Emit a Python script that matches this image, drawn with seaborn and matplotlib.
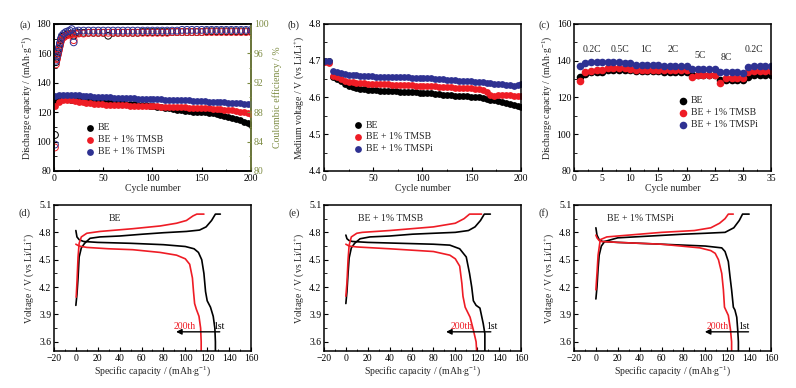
import numpy as np
import pandas as pd
import seaborn as sns
import matplotlib.pyplot as plt
from matplotlib.ticker import MultipleLocator, AutoMinorLocator

# ---- (a) cycling capacity / coulombic efficiency ----
cycles = np.r_[np.arange(1, 200, 4), 200]
cap_be = [127.5, 128.5, 129, 129, 128.5, 128.5, 128, 128, 127.8, 127.6, 127.4, 127.2, 127, 126.8,
          126.6, 126.4, 126.2, 126, 125.8, 125.6, 125.4, 125.2, 125, 124.8, 124.5, 124.2, 123.8,
          123.4, 123, 122.6, 122.2, 121.8, 121.4, 121, 120.7, 120.4, 120.2, 120, 119.8, 119.6,
          119.3, 118.8, 118.2, 117.5, 116.8, 116, 115.2, 114.4, 113.5, 112.5, 111.5]
cap_tmsb = [124.5, 127, 128.2, 128.3, 128, 127.5, 127, 126.6, 126.3, 126, 125.8, 125.6, 125.4,
            125.2, 125, 124.9, 124.8, 124.7, 124.6, 124.5, 124.4, 124.3, 124.2, 124.1, 124, 124,
            123.9, 123.8, 123.7, 123.6, 123.5, 123.4, 123.3, 123.2, 123.1, 123, 122.9, 122.8,
            122.7, 122.6, 122.4, 122.2, 122, 121.8, 121.5, 121.2, 120.8, 120.4, 120, 119.5, 119]
cap_tmspi = [131, 131.8, 132, 132, 131.8, 131.6, 131.4, 131.2, 131, 130.8, 130.6, 130.5, 130.4,
             130.2, 130, 129.9, 129.8, 129.7, 129.6, 129.5, 129.4, 129.3, 129.2, 129.1, 129, 128.9,
             128.8, 128.7, 128.6, 128.5, 128.4, 128.3, 128.2, 128.1, 128, 127.9, 127.8, 127.6,
             127.4, 127.2, 127, 126.9, 126.8, 126.6, 126.5, 126.4, 126.2, 126, 125.8, 125.6, 125.5]

ce_cycles = np.r_[[1, 2, 3, 4, 5, 6, 7, 8, 10, 12, 14, 16, 18, 20, 22], np.arange(25, 201, 5)]
ce_be = [84.9, 94.8, 95.4, 96.0, 96.6, 97.2, 97.8, 98.2, 98.4, 98.5, 98.6, 98.6, 98.7, 98.4, 98.7,
         98.8, 98.8, 98.8, 98.8, 98.8, 98.8, 98.4, 98.8, 98.8, 98.8, 98.8, 98.8, 98.8, 98.9, 98.9,
         98.9, 98.9, 98.9, 98.9, 98.9, 98.9, 98.9, 98.9, 98.9, 98.9, 98.9, 99.0, 99.0, 99.0, 99.0,
         99.0, 99.0, 99.0, 99.0, 99.0, 99.0]
ce_tmsb = [83.2, 94.5, 95.2, 95.8, 96.4, 97.0, 97.6, 98.0, 98.2, 98.4, 98.5, 98.6, 98.6, 97.8, 98.7,
           98.7, 98.7, 98.8, 98.8, 98.8, 98.8, 98.8, 98.8, 98.8, 98.8, 98.8, 98.8, 98.8, 98.8, 98.8,
           98.8, 98.8, 98.8, 98.8, 98.9, 98.9, 98.9, 98.9, 98.9, 98.9, 98.9, 98.9, 98.9, 98.9, 98.9,
           98.9, 98.9, 98.9, 98.9, 98.9, 98.9]
ce_tmspi = [83.6, 95.0, 95.6, 96.2, 96.8, 97.4, 98.0, 98.4, 98.7, 98.9, 99.0, 99.1, 99.3, 97.5, 99.0,
            99.1, 99.1, 99.1, 99.1, 99.1, 99.1, 99.1, 99.1, 99.1, 99.1, 99.1, 99.1, 99.1, 99.1, 99.1,
            99.1, 99.1, 99.1, 99.1, 99.1, 99.1, 99.2, 99.2, 99.2, 99.2, 99.2, 99.2, 99.2, 99.2, 99.2,
            99.2, 99.2, 99.2, 99.2, 99.2, 99.2]

# ---- (b) medium voltage ----
mv_be = [4.700, 4.698, 4.655, 4.650, 4.645, 4.637, 4.631, 4.628, 4.626, 4.624, 4.622, 4.621, 4.620,
         4.620, 4.619, 4.619, 4.618, 4.618, 4.617, 4.616, 4.615, 4.615, 4.614, 4.614, 4.613, 4.613,
         4.612, 4.611, 4.610, 4.609, 4.608, 4.607, 4.606, 4.605, 4.604, 4.603, 4.603, 4.602, 4.601,
         4.600, 4.598, 4.596, 4.594, 4.592, 4.590, 4.588, 4.585, 4.582, 4.579, 4.576, 4.575]
mv_tmsb = [4.697, 4.695, 4.659, 4.655, 4.650, 4.646, 4.643, 4.641, 4.640, 4.639, 4.639, 4.638, 4.638,
           4.637, 4.637, 4.636, 4.636, 4.635, 4.635, 4.634, 4.634, 4.633, 4.633, 4.632, 4.632, 4.631,
           4.631, 4.630, 4.630, 4.629, 4.629, 4.628, 4.628, 4.627, 4.627, 4.626, 4.625, 4.625, 4.624,
           4.622, 4.620, 4.615, 4.608, 4.603, 4.606, 4.608, 4.607, 4.606, 4.605, 4.604, 4.605]
mv_tmspi = [4.700, 4.700, 4.672, 4.669, 4.666, 4.663, 4.661, 4.660, 4.660, 4.659, 4.659, 4.658, 4.658,
            4.657, 4.657, 4.657, 4.656, 4.656, 4.656, 4.655, 4.655, 4.655, 4.654, 4.654, 4.654, 4.653,
            4.653, 4.652, 4.651, 4.650, 4.649, 4.648, 4.648, 4.647, 4.646, 4.645, 4.645, 4.644, 4.643,
            4.642, 4.641, 4.640, 4.639, 4.638, 4.637, 4.636, 4.635, 4.634, 4.632, 4.635, 4.637]

# ---- (c) rate capability ----
rate_cycles = np.arange(1, 36)
rate_be = [131.0, 132.9, 134.1, 134.1, 134.1, 135.2, 135.2, 135.2, 135.2, 135.2, 134.6, 134.6, 134.6,
           134.6, 134.6, 134.0, 134.0, 134.0, 134.0, 134.0, 132.5, 132.3, 132.3, 132.3, 132.3, 129.6,
           129.6, 129.6, 129.6, 129.6, 131.4, 132.1, 132.1, 132.1, 132.1]
rate_tmsb = [128.7, 133.6, 134.5, 135.0, 135.0, 136.0, 136.0, 136.0, 136.0, 135.6, 135.0, 135.0, 135.0,
             135.0, 135.0, 134.7, 134.7, 134.7, 134.7, 134.7, 131.0, 132.3, 132.3, 132.3, 132.3,
             128.1, 130.5, 130.5, 130.5, 130.5, 133.6, 134.3, 134.3, 134.3, 134.3]
rate_tmspi = [137.2, 138.7, 139.2, 139.2, 139.2, 139.2, 139.2, 139.2, 138.7, 138.7, 137.8, 137.8, 137.8,
              137.8, 137.8, 136.9, 136.9, 136.9, 136.9, 136.9, 135.6, 135.6, 135.6, 135.6, 135.6,
              134.1, 134.1, 134.1, 134.1, 133.2, 136.5, 137.0, 137.0, 137.0, 137.0]
rate_labels = ["0.2C", "0.5C", "1C", "2C", "5C", "8C", "0.2C"]
rate_label_x = [3.1, 8.1, 12.8, 17.6, 22.4, 27.1, 32.0]
rate_label_y = [146, 146, 146, 146, 143, 142, 146]

# ---- (d)-(f) charge / discharge profiles: (1st charge, 1st discharge, 200th charge, 200th discharge) ----
d_c1_x = [0, 1, 2, 3, 5, 8, 13, 22, 40, 61, 80, 101, 113, 119, 124, 127.5, 132]
d_c1_y = [4.0, 4.12, 4.3, 4.53, 4.63, 4.68, 4.735, 4.75, 4.76, 4.78, 4.796, 4.81, 4.825, 4.86, 4.93, 5.0, 5.0]
d_d1_x = [0, 1, 3, 7, 20, 50, 80, 100, 108, 112, 115, 117, 118.5, 120, 123, 125.5, 127, 127.5, 127.5]
d_d1_y = [4.82, 4.75, 4.72, 4.70, 4.69, 4.68, 4.665, 4.645, 4.62, 4.58, 4.50, 4.35, 4.15, 4.05, 3.98, 3.88, 3.75, 3.60, 3.50]
d_c200_x = [0.3, 1, 2, 3, 5, 10, 22, 52, 77, 92, 101, 107, 110.5, 117]
d_c200_y = [4.09, 4.25, 4.53, 4.68, 4.75, 4.79, 4.81, 4.84, 4.87, 4.90, 4.93, 4.98, 5.0, 5.0]
d_d200_x = [0, 3, 10, 30, 52, 77, 92, 100, 104, 106.5, 107.5, 108.5, 110, 112.5, 114, 114.5, 114.5]
d_d200_y = [4.67, 4.65, 4.635, 4.62, 4.61, 4.58, 4.55, 4.51, 4.45, 4.30, 4.15, 4.02, 3.96, 3.88, 3.75, 3.60, 3.50]

e_c1_x = [0, 1, 2, 3, 5, 8, 13, 22, 40, 61, 80, 100, 112, 118, 123, 126.5, 132]
e_c1_y = [4.02, 4.15, 4.35, 4.52, 4.63, 4.68, 4.73, 4.75, 4.76, 4.78, 4.79, 4.80, 4.82, 4.86, 4.93, 5.0, 5.0]
e_d1_x = [0, 1, 3, 6, 20, 50, 80, 95, 104, 110, 113, 115, 116.5, 119, 122.5, 125.5, 127, 127, 127]
e_d1_y = [4.77, 4.73, 4.71, 4.70, 4.69, 4.68, 4.67, 4.66, 4.62, 4.53, 4.35, 4.20, 4.05, 4.0, 3.97, 3.80, 3.69, 3.60, 3.50]
e_c200_x = [0, 1, 2, 3, 5, 10, 15, 40, 80, 100, 108, 113, 124]
e_c200_y = [4.10, 4.25, 4.50, 4.66, 4.75, 4.79, 4.80, 4.82, 4.86, 4.90, 4.95, 5.0, 5.0]
e_d200_x = [0, 3, 10, 40, 80, 95, 100, 104, 106, 107, 109, 113.5, 116.5, 119, 119.5]
e_d200_y = [4.67, 4.65, 4.64, 4.62, 4.59, 4.55, 4.51, 4.43, 4.24, 4.10, 3.98, 3.87, 3.73, 3.60, 3.50]

f_c1_x = [0, 1, 2, 3, 5, 8, 20, 50, 80, 100, 118, 126, 131, 134, 140]
f_c1_y = [4.07, 4.2, 4.4, 4.55, 4.65, 4.70, 4.74, 4.76, 4.78, 4.79, 4.80, 4.85, 4.93, 5.0, 5.0]
f_d1_x = [0, 1, 3, 6, 20, 60, 100, 115, 118, 121, 122.6, 124, 125.6, 127, 128.7, 129.6, 130.2, 130.2]
f_d1_y = [4.85, 4.77, 4.72, 4.70, 4.69, 4.67, 4.65, 4.63, 4.59, 4.48, 4.31, 4.17, 3.98, 3.95, 3.87, 3.73, 3.60, 3.50]
f_c200_x = [0, 1, 2, 4, 10, 30, 60, 90, 105, 113, 118, 121, 125.5]
f_c200_y = [4.17, 4.35, 4.55, 4.72, 4.75, 4.77, 4.80, 4.82, 4.85, 4.90, 4.95, 5.0, 5.0]
f_d200_x = [0, 1, 3, 5, 20, 60, 95, 105, 109, 112, 115, 116.5, 117.5, 121, 123, 124, 124]
f_d200_y = [4.77, 4.74, 4.71, 4.70, 4.69, 4.67, 4.63, 4.60, 4.57, 4.50, 4.35, 4.17, 3.98, 3.89, 3.73, 3.60, 3.50]

profile_titles = ["BE", "BE + 1% TMSB", "BE + 1% TMSPi"]
title_x = [30, 11, 10]
arrow_from = [134, 135, 142]
arrow_to = [89, 89, 97]
lbl200_x = [99.5, 106, 111]
lbl1_x = [131, 133, 135]

series_names = ["BE", "BE + 1% TMSB", "BE + 1% TMSPi"]
colors = ["black", "#ee1c25", "#2e3192"]
olive = "#7b8a40"

sns.set_theme(style="ticks")
plt.rcParams['font.family'] = ['Liberation Serif', 'DejaVu Serif']
plt.rcParams['mathtext.fontset'] = 'custom'
plt.rcParams['mathtext.rm'] = 'Liberation Serif'
plt.rcParams['mathtext.it'] = 'Liberation Serif:italic'
plt.rcParams['font.size'] = 7
plt.rcParams['axes.linewidth'] = 1.1

fig = plt.figure(figsize=(7.96, 3.88), dpi=100)
lefts = [0.0678, 0.4070, 0.7211]
w = 0.2475
ax_a = fig.add_axes([lefts[0], 0.5593, w, 0.3789])
ax_b = fig.add_axes([lefts[1], 0.5593, w, 0.3789])
ax_c = fig.add_axes([lefts[2], 0.5593, w, 0.3789])
ax_low = [fig.add_axes([l, 0.0954, w, 0.3763]) for l in lefts]


def style(ax):
    ax.tick_params(which='both', direction='in', labelsize=7, colors='black', pad=2)
    ax.tick_params(which='major', length=3, width=0.8)
    ax.tick_params(which='minor', length=1.8, width=0.6)
    ax.xaxis.set_minor_locator(AutoMinorLocator(2))
    ax.yaxis.set_minor_locator(AutoMinorLocator(2))
    for s in ax.spines.values():
        s.set_visible(True)
        s.set_linewidth(1.1)
        s.set_color('black')
    ax.grid(False)


# (a)
for vals, name, c in zip([cap_be, cap_tmsb, cap_tmspi], series_names, colors):
    sns.scatterplot(x=cycles, y=vals, ax=ax_a, color=c, s=24, linewidth=0, label=name, zorder=3)
ax_a.set_xlim(0, 200)
ax_a.set_ylim(80, 180)
ax_a.xaxis.set_major_locator(MultipleLocator(50))
ax_a.yaxis.set_major_locator(MultipleLocator(20))
ax_a.set_xlabel("Cycle number", fontsize=7, labelpad=1)
ax_a.set_ylabel("Discharge capacity / (mAh$\\cdot$g$^{-1}$)", fontsize=7, labelpad=2)
style(ax_a)
ax2 = ax_a.twinx()
for vals, c in zip([ce_be, ce_tmsb, ce_tmspi], colors):
    sns.scatterplot(x=ce_cycles, y=vals, ax=ax2, s=24, facecolor='none', edgecolor=c, linewidth=0.7)
ax2.set_ylim(80, 100)
ax2.yaxis.set_major_locator(MultipleLocator(4))
style(ax2)
ax2.spines['right'].set_color(olive)
ax2.tick_params(axis='y', which='both', colors=olive, labelcolor=olive)
ax2.set_ylabel("Coulombic efficiency / %", color=olive, fontsize=7, labelpad=3)
ax_a.legend(frameon=False, loc='lower left', bbox_to_anchor=(0.16, 0.1), borderaxespad=0, borderpad=0,
            handlelength=1, handletextpad=0.3, labelspacing=0.3, fontsize=7)

# (b)
for vals, name, c in zip([mv_be, mv_tmsb, mv_tmspi], series_names, colors):
    sns.scatterplot(x=cycles, y=vals, ax=ax_b, color=c, s=24, linewidth=0, label=name)
ax_b.set_xlim(0, 200)
ax_b.set_ylim(4.4, 4.8)
ax_b.xaxis.set_major_locator(MultipleLocator(50))
ax_b.yaxis.set_major_locator(MultipleLocator(0.1))
ax_b.set_xlabel("Cycle number", fontsize=7, labelpad=1)
ax_b.set_ylabel("Medium voltage / V (vs Li/Li$^{+}$)", fontsize=7, labelpad=2)
style(ax_b)
ax_b.legend(frameon=False, loc='lower left', bbox_to_anchor=(0.15, 0.12), borderaxespad=0, borderpad=0,
            handlelength=1, handletextpad=0.3, labelspacing=0.3, fontsize=7)

# (c)
for vals, name, c in zip([rate_be, rate_tmsb, rate_tmspi], series_names, colors):
    sns.scatterplot(x=rate_cycles, y=vals, ax=ax_c, color=c, s=30, linewidth=0, label=name)
for t, x, y in zip(rate_labels, rate_label_x, rate_label_y):
    ax_c.text(x, y, t, ha='center', va='center', fontsize=7)
ax_c.set_xlim(0, 35)
ax_c.set_ylim(80, 160)
ax_c.xaxis.set_major_locator(MultipleLocator(5))
ax_c.yaxis.set_major_locator(MultipleLocator(20))
ax_c.set_xlabel("Cycle number", fontsize=7, labelpad=1)
ax_c.set_ylabel("Discharge capacity / (mAh$\\cdot$g$^{-1}$)", fontsize=7, labelpad=2)
style(ax_c)
ax_c.legend(frameon=False, loc='lower left', bbox_to_anchor=(0.53, 0.285), borderaxespad=0, borderpad=0,
            handlelength=1, handletextpad=0.3, labelspacing=0.3, fontsize=7)

# (d)-(f)
profiles = [
    (d_c1_x, d_c1_y, d_d1_x, d_d1_y, d_c200_x, d_c200_y, d_d200_x, d_d200_y),
    (e_c1_x, e_c1_y, e_d1_x, e_d1_y, e_c200_x, e_c200_y, e_d200_x, e_d200_y),
    (f_c1_x, f_c1_y, f_d1_x, f_d1_y, f_c200_x, f_c200_y, f_d200_x, f_d200_y),
]
for i, (ax, prof) in enumerate(zip(ax_low, profiles)):
    c1x, c1y, d1x, d1y, c2x, c2y, d2x, d2y = prof
    for xs, ys, c in [(c1x, c1y, 'black'), (d1x, d1y, 'black'), (c2x, c2y, '#ee1c25'), (d2x, d2y, '#ee1c25')]:
        df = pd.DataFrame({'cap': xs, 'v': ys})
        sns.lineplot(data=df, x='cap', y='v', ax=ax, color=c, lw=1.2, sort=False, estimator=None)
    ax.annotate("", xy=(arrow_to[i], 3.71), xytext=(arrow_from[i], 3.71),
                arrowprops=dict(arrowstyle='-|>', color='black', lw=1.0, mutation_scale=8))
    ax.text(lbl200_x[i], 3.765, "200th", color='#ee1c25', ha='center', va='center', fontsize=7)
    ax.text(lbl1_x[i], 3.765, "1st", color='black', ha='center', va='center', fontsize=7)
    ax.text(title_x[i], 4.95, profile_titles[i], ha='left', va='center', fontsize=7)
    ax.set_xlim(-20, 160)
    ax.set_ylim(3.5, 5.1)
    ax.xaxis.set_major_locator(MultipleLocator(20))
    ax.yaxis.set_major_locator(MultipleLocator(0.3))
    ax.set_yticks([3.6, 3.9, 4.2, 4.5, 4.8, 5.1])
    ax.set_xlabel("Specific capacity / (mAh$\\cdot$g$^{-1}$)", fontsize=7, labelpad=1)
    ax.set_ylabel("Voltage / V (vs Li/Li$^{+}$)", fontsize=7, labelpad=2)
    style(ax)
    ax.yaxis.set_minor_locator(MultipleLocator(0.15))

for lab, x, y in zip(["(a)", "(b)", "(c)", "(d)", "(e)", "(f)"],
                     [25, 294, 544, 25, 294, 544], [25, 25, 25, 213, 213, 213]):
    fig.text(x / 796, 1 - y / 388, lab, ha='center', va='center', fontsize=7.5)

fig.savefig("out.png", dpi=100)
